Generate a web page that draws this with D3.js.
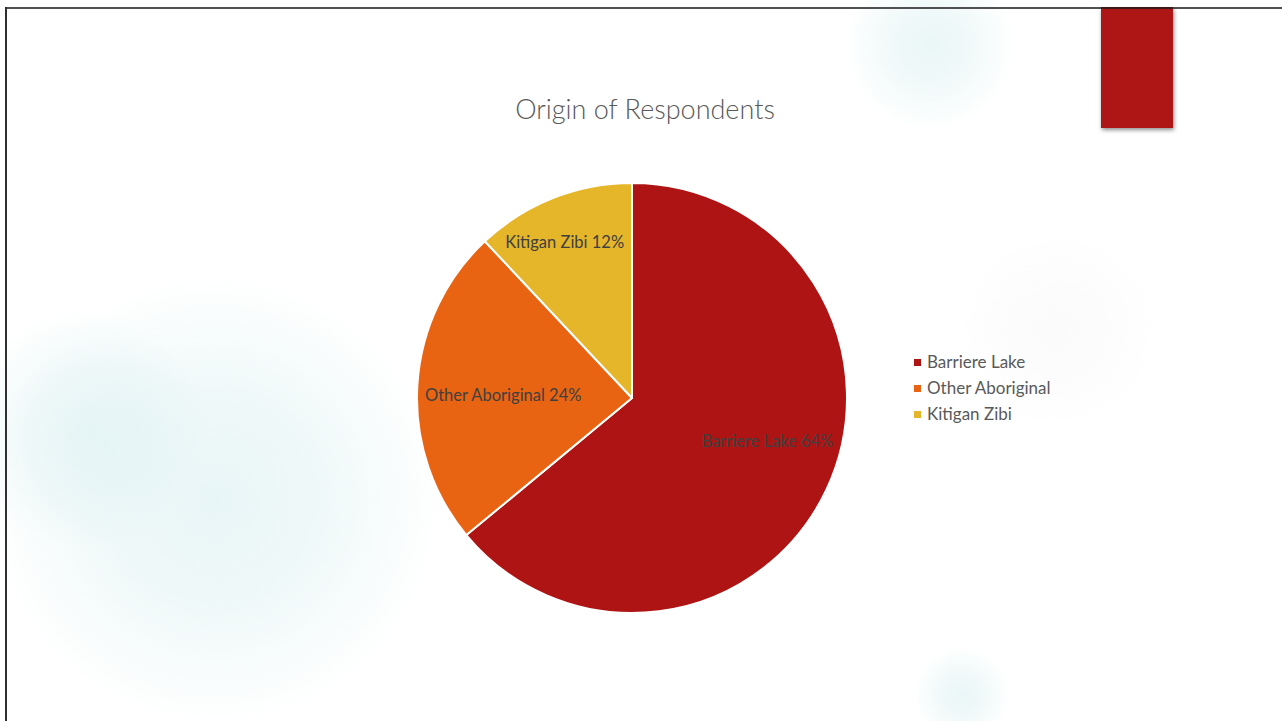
<!DOCTYPE html>
<html>
<head>
<meta charset="utf-8">
<script src="https://cdn.jsdelivr.net/npm/d3@7"></script>
<style>
  html, body { margin: 0; padding: 0; background: #fff; }
  svg { display: block; }
</style>
</head>
<body>
<svg id="chart" width="1282" height="721"></svg>
<script>
// Survey data: where respondents come from
const categories = ["Barriere Lake", "Other Aboriginal", "Kitigan Zibi"];
const shares = [64, 24, 12];
const sliceColors = ["#ae1414", "#e86413", "#e5b52a"];
const chartTitle = "Origin of Respondents";

const W = 1282, H = 721;
const svg = d3.select("#chart");
const defs = svg.append("defs");

// soft teal glows in the slide background
function glow(id, color, op) {
  const g = defs.append("radialGradient").attr("id", id);
  g.append("stop").attr("offset", "0%").attr("stop-color", color).attr("stop-opacity", op);
  g.append("stop").attr("offset", "50%").attr("stop-color", color).attr("stop-opacity", op * 0.65);
  g.append("stop").attr("offset", "100%").attr("stop-color", color).attr("stop-opacity", 0);
}
glow("tealA", "#d9eff0", 0.6);
glow("tealB", "#d9eff0", 0.55);
glow("grayC", "#f4f4f4", 0.35);

const blobs = [
  { cx: 215, cy: 500, r: 225, fill: "url(#tealA)" },
  { cx: 85, cy: 430, r: 120, fill: "url(#tealB)" },
  { cx: 930, cy: 45, r: 85, fill: "url(#tealB)" },
  { cx: 962, cy: 695, r: 48, fill: "url(#tealB)" },
  { cx: 1058, cy: 330, r: 100, fill: "url(#grayC)" }
];
svg.selectAll("circle.blob").data(blobs).join("circle")
  .attr("class", "blob")
  .attr("cx", d => d.cx).attr("cy", d => d.cy).attr("r", d => d.r)
  .attr("fill", d => d.fill);

// slide frame
svg.append("line").attr("x1", 5).attr("x2", W).attr("y1", 8).attr("y2", 8)
  .attr("stroke", "#505050").attr("stroke-width", 2);
svg.append("line").attr("x1", 6).attr("x2", 6).attr("y1", 7).attr("y2", H)
  .attr("stroke", "#303030").attr("stroke-width", 2);

// red tab hanging from the top edge
const shadow = defs.append("filter").attr("id", "tabShadow")
  .attr("x", "-20%").attr("y", "-10%").attr("width", "150%").attr("height", "130%");
shadow.append("feDropShadow").attr("dx", 1).attr("dy", 2).attr("stdDeviation", 2)
  .attr("flood-color", "#000").attr("flood-opacity", 0.45);
svg.append("rect").attr("x", 1101).attr("y", 8).attr("width", 72).attr("height", 120)
  .attr("fill", "#ae1414").attr("filter", "url(#tabShadow)");
svg.append("line").attr("x1", 1101).attr("x2", 1173).attr("y1", 8).attr("y2", 8)
  .attr("stroke", "#3a1a1a").attr("stroke-width", 2);

const font = "'Lato', 'Open Sans', 'DejaVu Sans', sans-serif";

// title
svg.append("text").attr("x", 645).attr("y", 119)
  .attr("text-anchor", "middle")
  .attr("font-family", font).attr("font-size", 27).attr("font-weight", 300)
  .attr("fill", "#595959")
  .text(chartTitle);

// pie
const cx = 632, cy = 398, radius = 215;
const color = d3.scaleOrdinal().domain(categories).range(sliceColors);
const pie = d3.pie().sort(null).value(d => d.value);
const data = categories.map((c, i) => ({ name: c, value: shares[i] }));
const arcs = pie(data);
const arc = d3.arc().innerRadius(0).outerRadius(radius);

const g = svg.append("g").attr("transform", `translate(${cx},${cy})`);
g.selectAll("path").data(arcs).join("path")
  .attr("d", arc)
  .attr("fill", d => color(d.data.name))
  .attr("stroke", "#fff").attr("stroke-width", 2)
  .attr("stroke-linejoin", "round");

// data labels placed inside each slice
const labelOffsets = [[5, -18], [0, 5], [-4, 4]];
const labelPos = [
  d3.arc().innerRadius(radius * 0.67).outerRadius(radius * 0.67),
  d3.arc().innerRadius(radius * 0.60).outerRadius(radius * 0.60),
  d3.arc().innerRadius(radius * 0.80).outerRadius(radius * 0.80)
];
g.selectAll("text.lbl").data(arcs).join("text")
  .attr("class", "lbl")
  .attr("transform", (d, i) => {
    const p = labelPos[i].centroid(d);
    return `translate(${p[0] + labelOffsets[i][0]},${p[1] + labelOffsets[i][1]})`;
  })
  .attr("text-anchor", "middle").attr("dy", "0.35em")
  .attr("font-family", font).attr("font-size", 16.5)
  .attr("fill", "#404040")
  .text(d => `${d.data.name} ${d.data.value}%`);

// legend
const legend = svg.append("g").attr("transform", "translate(914,362)");
const rows = legend.selectAll("g").data(categories).join("g")
  .attr("transform", (d, i) => `translate(0,${i * 26})`);
rows.append("rect").attr("x", 0).attr("y", -3).attr("width", 7).attr("height", 7)
  .attr("fill", d => color(d));
rows.append("text").attr("x", 13).attr("y", 0).attr("dy", "0.35em")
  .attr("font-family", font).attr("font-size", 17)
  .attr("fill", "#595959")
  .text(d => d);
</script>
</body>
</html>
